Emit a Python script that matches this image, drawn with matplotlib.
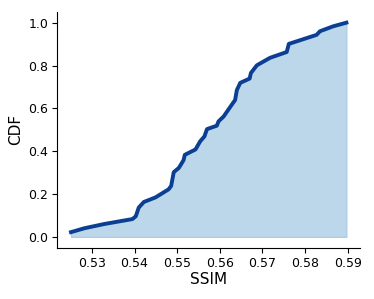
import numpy as np
import matplotlib.pyplot as plt

# values
ssim = [0.5251, 0.5282, 0.5329, 0.5395, 0.5403, 0.5410, 0.5422, 0.5449,
        0.5480, 0.5486, 0.5492, 0.5504, 0.5515, 0.5518, 0.5543, 0.5554,
        0.5564, 0.5570, 0.5593, 0.5597, 0.5609, 0.5617, 0.5625, 0.5636,
        0.5640, 0.5648, 0.5670, 0.5673, 0.5687, 0.5718, 0.5757, 0.5762,
        0.5827, 0.5835, 0.5866, 0.5897]
cdf = [0.022, 0.040, 0.060, 0.083, 0.096, 0.137, 0.163, 0.184,
       0.222, 0.238, 0.302, 0.322, 0.358, 0.383, 0.408, 0.446,
       0.469, 0.503, 0.519, 0.539, 0.562, 0.585, 0.608, 0.639,
       0.685, 0.719, 0.739, 0.765, 0.801, 0.836, 0.863, 0.901,
       0.943, 0.960, 0.983, 1.0]
xticks = [0.53, 0.54, 0.55, 0.56, 0.57, 0.58, 0.59]

fig, ax = plt.subplots(figsize=(3.74, 2.99), dpi=100)
ax.fill_between(ssim, 0, cdf, color="#bcd6ea", edgecolor="#a9c8e3", linewidth=0.8)
ax.plot(ssim, cdf, color="#0b3f93", linewidth=2.8)
ax.set_xticks(xticks)
ax.set_xlabel("SSIM", fontsize=11, labelpad=2)
ax.set_ylabel("CDF", fontsize=11)
ax.tick_params(labelsize=9, pad=3)
ax.spines["top"].set_visible(False)
ax.spines["right"].set_visible(False)
fig.subplots_adjust(left=0.153, right=0.963, top=0.96, bottom=0.172)
fig.savefig("out.png")
